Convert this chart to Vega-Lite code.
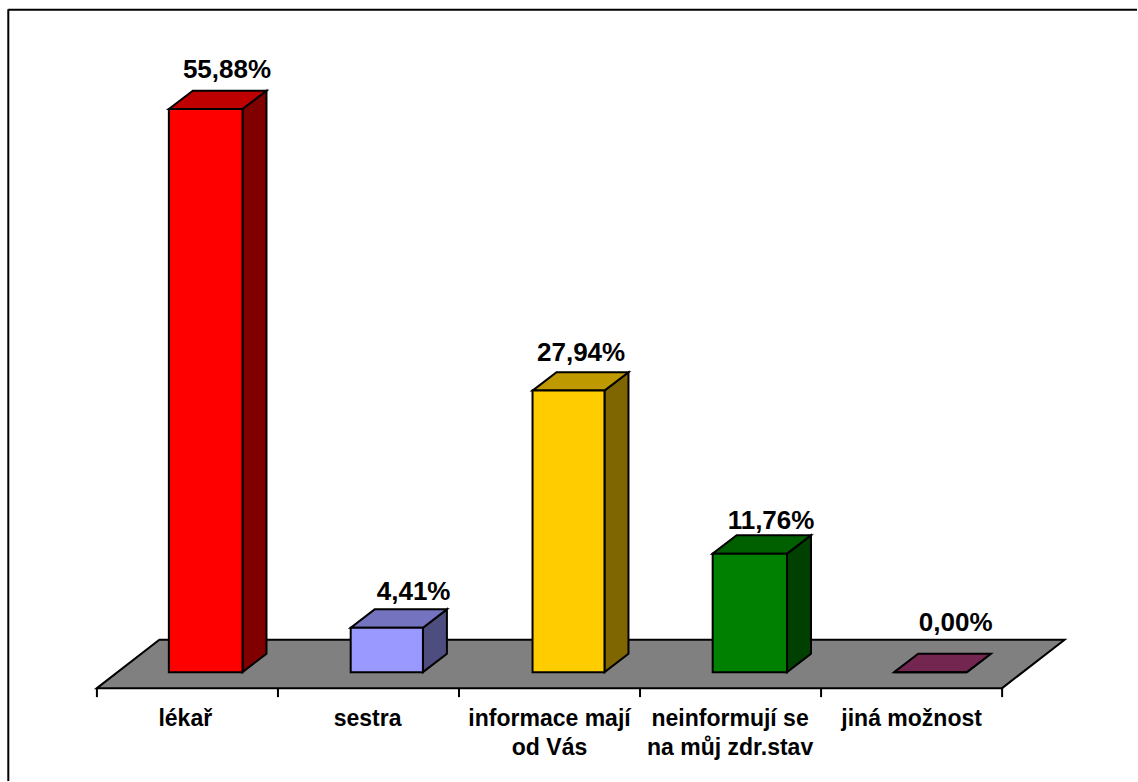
{
  "$schema": "https://vega.github.io/schema/vega-lite/v6.json",
  "autosize": {"type": "fit", "contains": "padding"},
  "width": 1138,
  "height": 782,
  "padding": 0,
  "background": "white",
  "view": {"stroke": null},
  "params": [
    {"name": "barLeft", "value": [0.3974, 0.4018, 0.4062, 0.4012, 0.404]},
    {"name": "barWidth", "value": [0.4067, 0.399, 0.3974, 0.4106, 0.4012]},
    {"name": "depthX", "value": 0.1325},
    {"name": "depthY", "value": 1.82}
  ],
  "data": {
    "values": [
      {"category": "lékař", "order": 0, "value": 55.88},
      {"category": "sestra", "order": 1, "value": 4.41},
      {"category": "informace mají\nod Vás", "order": 2, "value": 27.94},
      {"category": "neinformují se\nna můj zdr.stav", "order": 3, "value": 11.76},
      {"category": "jiná možnost", "order": 4, "value": 0}
    ]
  },
  "resolve": {"scale": {"fill": "independent"}},
  "layer": [
    {
      "description": "Grey floor of the 3D plot",
      "data": {"values": [{}]},
      "transform": [
        {"calculate": "[0, 0.345, 5, 5.345]", "as": "px"},
        {"calculate": "[-1.586, -1.586, -1.586, 3.21]", "as": "lo"},
        {"calculate": "[-1.586, 3.21, 3.21, 3.21]", "as": "hi"},
        {"flatten": ["px", "lo", "hi"]}
      ],
      "mark": {"type": "area", "orient": "vertical", "interpolate": "linear", "fill": "#808080", "stroke": "black", "strokeWidth": 2, "opacity": 1},
      "encoding": {
        "x": {"field": "px", "type": "quantitative", "scale": {"domain": [-0.53532, 5.74503], "nice": false, "zero": false}, "axis": null},
        "y": {"field": "hi", "type": "quantitative", "stack": null, "scale": {"domain": [-10.802, 66.7], "nice": false, "zero": false}, "axis": null},
        "y2": {"field": "lo"}
      }
    },
    {
      "description": "Shaded right side of each column",
      "transform": [
        {"calculate": "datum.order + barLeft[datum.order] + barWidth[datum.order]", "as": "right"},
        {"calculate": "[datum.right, datum.right + depthX]", "as": "px"},
        {"calculate": "[0, depthY]", "as": "lo"},
        {"calculate": "[datum.value, datum.value + depthY]", "as": "hi"},
        {"flatten": ["px", "lo", "hi"]}
      ],
      "mark": {"type": "area", "orient": "vertical", "interpolate": "linear", "stroke": "black", "strokeWidth": 2, "opacity": 1},
      "encoding": {
        "x": {"field": "px", "type": "quantitative", "scale": {"domain": [-0.53532, 5.74503], "nice": false, "zero": false}, "axis": null},
        "y": {"field": "hi", "type": "quantitative", "stack": null, "scale": {"domain": [-10.802, 66.7], "nice": false, "zero": false}, "axis": null},
        "y2": {"field": "lo"},
        "fill": {
          "field": "category", "type": "nominal", "legend": null,
          "scale": {
            "domain": ["lékař", "sestra", "informace mají\nod Vás", "neinformují se\nna můj zdr.stav", "jiná možnost"],
            "range": ["#800000", "#4D4D80", "#806600", "#004000", "#4D1A33"]
          }
        }
      }
    },
    {
      "description": "Lit top of each column",
      "transform": [
        {"calculate": "datum.order + barLeft[datum.order]", "as": "left"},
        {"calculate": "datum.left + barWidth[datum.order]", "as": "right"},
        {"calculate": "[datum.left, datum.left + depthX, datum.right, datum.right + depthX]", "as": "px"},
        {"calculate": "[datum.value, datum.value, datum.value, datum.value + depthY]", "as": "lo"},
        {"calculate": "[datum.value, datum.value + depthY, datum.value + depthY, datum.value + depthY]", "as": "hi"},
        {"flatten": ["px", "lo", "hi"]}
      ],
      "mark": {"type": "area", "orient": "vertical", "interpolate": "linear", "stroke": "black", "strokeWidth": 2, "opacity": 1},
      "encoding": {
        "x": {"field": "px", "type": "quantitative", "scale": {"domain": [-0.53532, 5.74503], "nice": false, "zero": false}, "axis": null},
        "y": {"field": "hi", "type": "quantitative", "stack": null, "scale": {"domain": [-10.802, 66.7], "nice": false, "zero": false}, "axis": null},
        "y2": {"field": "lo"},
        "fill": {
          "field": "category", "type": "nominal", "legend": null,
          "scale": {
            "domain": ["lékař", "sestra", "informace mají\nod Vás", "neinformují se\nna můj zdr.stav", "jiná možnost"],
            "range": ["#BF0000", "#7373BF", "#BF9900", "#006000", "#732650"]
          }
        }
      }
    },
    {
      "description": "Front face of each column",
      "transform": [
        {"calculate": "datum.order + barLeft[datum.order]", "as": "x0"},
        {"calculate": "datum.x0 + barWidth[datum.order]", "as": "x1"}
      ],
      "mark": {"type": "rect", "stroke": "black", "strokeWidth": 2, "opacity": 1},
      "encoding": {
        "x": {"field": "x0", "type": "quantitative", "scale": {"domain": [-0.53532, 5.74503], "nice": false, "zero": false}, "axis": null},
        "x2": {"field": "x1"},
        "y": {"field": "value", "type": "quantitative", "stack": null, "scale": {"domain": [-10.802, 66.7], "nice": false, "zero": false}, "axis": null},
        "y2": {"datum": 0},
        "fill": {
          "field": "category", "type": "nominal", "legend": null,
          "scale": {
            "domain": ["lékař", "sestra", "informace mají\nod Vás", "neinformují se\nna můj zdr.stav", "jiná možnost"],
            "range": ["#FF0000", "#9999FF", "#FFCC00", "#008000", "#993366"]
          }
        }
      }
    },
    {
      "description": "Percentage above each column, hand-placed as in the source workbook",
      "transform": [
        {"calculate": "replace(format(datum.value, '.2f'), '.', ',') + '%'", "as": "label"},
        {"calculate": "datum.order + [0.7185, 0.7494, 0.6744, 0.7235, 0.7434][datum.order]", "as": "labelX"},
        {"calculate": "datum.value + [3.04, 2.73, 2.91, 2.41, 4.09][datum.order]", "as": "labelY"}
      ],
      "mark": {"type": "text", "font": "Liberation Sans", "fontWeight": "bold", "fontSize": 26, "align": "center", "baseline": "alphabetic", "color": "black"},
      "encoding": {
        "x": {"field": "labelX", "type": "quantitative", "scale": {"domain": [-0.53532, 5.74503], "nice": false, "zero": false}, "axis": null},
        "y": {"field": "labelY", "type": "quantitative", "stack": null, "scale": {"domain": [-10.802, 66.7], "nice": false, "zero": false}, "axis": null},
        "text": {"field": "label"}
      }
    },
    {
      "description": "Category names under the floor",
      "transform": [
        {"calculate": "datum.order + [0.488, 0.495, 0.5, 0.4975, 0.5][datum.order]", "as": "labelX"},
        {"calculate": "-5.352", "as": "labelY"}
      ],
      "mark": {"type": "text", "font": "Liberation Sans", "fontWeight": "bold", "fontSize": 23, "align": "center", "baseline": "alphabetic", "lineBreak": "\n", "lineHeight": 29, "color": "black"},
      "encoding": {
        "x": {"field": "labelX", "type": "quantitative", "scale": {"domain": [-0.53532, 5.74503], "nice": false, "zero": false}, "axis": null},
        "y": {"field": "labelY", "type": "quantitative", "stack": null, "scale": {"domain": [-10.802, 66.7], "nice": false, "zero": false}, "axis": null},
        "text": {"field": "category"}
      }
    },
    {
      "description": "Tick marks along the front edge of the floor",
      "data": {"values": [{"tick": 0}, {"tick": 1}, {"tick": 2}, {"tick": 3}, {"tick": 4}, {"tick": 5}]},
      "mark": {"type": "rule", "stroke": "black", "strokeWidth": 2},
      "encoding": {
        "x": {"field": "tick", "type": "quantitative", "scale": {"domain": [-0.53532, 5.74503], "nice": false, "zero": false}, "axis": null},
        "y": {"datum": -1.586, "type": "quantitative", "scale": {"domain": [-10.802, 66.7], "nice": false, "zero": false}, "axis": null},
        "y2": {"datum": -2.478}
      }
    },
    {
      "description": "Chart-area border, left edge",
      "data": {"values": [{}]},
      "mark": {"type": "rule", "stroke": "black", "strokeWidth": 2},
      "encoding": {
        "x": {"datum": -0.4895, "type": "quantitative", "scale": {"domain": [-0.53532, 5.74503], "nice": false, "zero": false}, "axis": null},
        "y": {"datum": 65.79, "type": "quantitative", "scale": {"domain": [-10.802, 66.7], "nice": false, "zero": false}, "axis": null},
        "y2": {"datum": -10.802}
      }
    },
    {
      "description": "Chart-area border, top edge",
      "data": {"values": [{}]},
      "mark": {"type": "rule", "stroke": "black", "strokeWidth": 2},
      "encoding": {
        "x": {"datum": -0.4895, "type": "quantitative", "scale": {"domain": [-0.53532, 5.74503], "nice": false, "zero": false}, "axis": null},
        "x2": {"datum": 5.74503},
        "y": {"datum": 65.74, "type": "quantitative", "scale": {"domain": [-10.802, 66.7], "nice": false, "zero": false}, "axis": null}
      }
    }
  ]
}
